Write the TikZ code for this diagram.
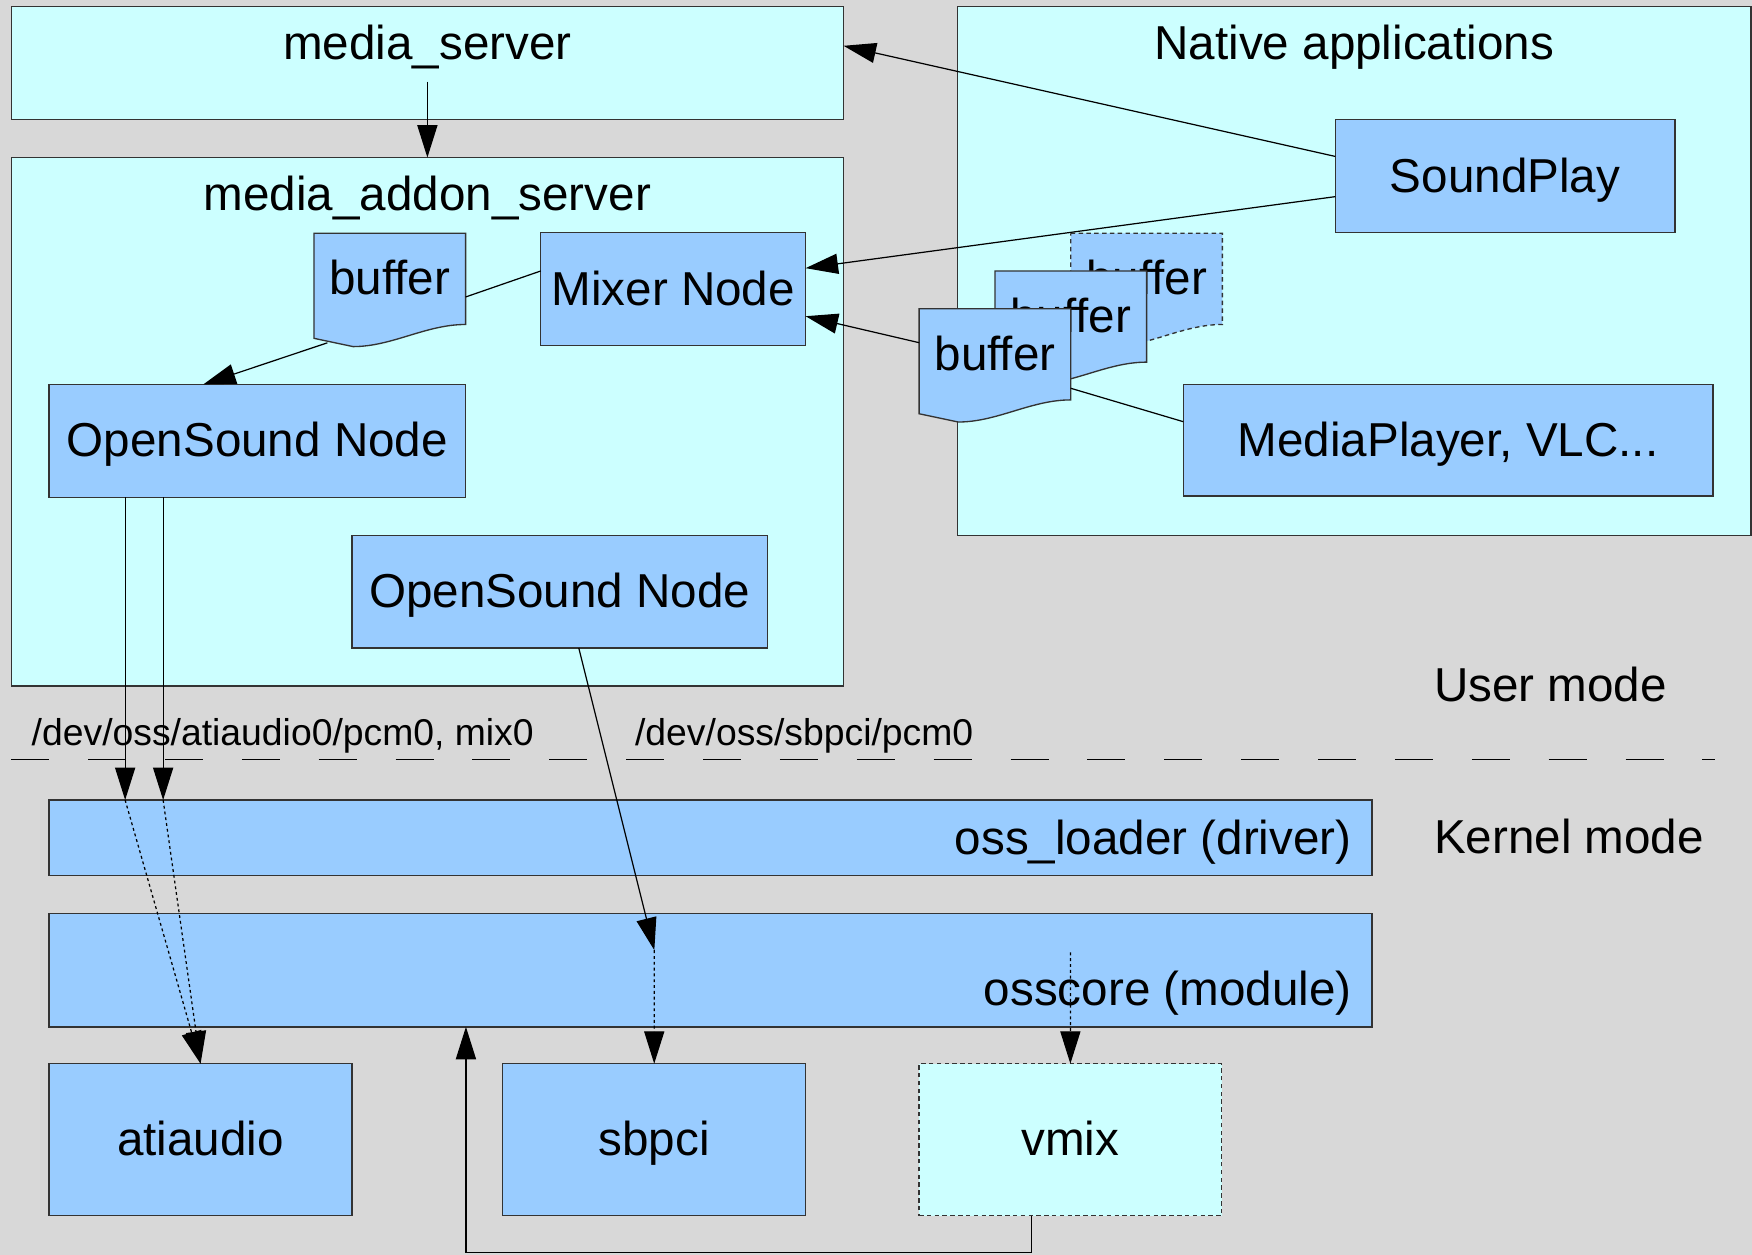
\documentclass[tikz,border=0pt]{standalone}
\usepackage{fontspec}
\setmainfont{Liberation Sans}
\usetikzlibrary{arrows.meta,calc}

\definecolor{bggray}{RGB}{216,216,216}
\definecolor{pale}{RGB}{204,255,255}
\definecolor{boxblue}{RGB}{153,204,255}
\definecolor{edge}{RGB}{51,51,51}

% rectangle node given by its corners (x1,y1)-(x2,y2)
\newcommand\placebox[6]{%
  \node[#1, minimum width={(#5-#3)*0.5pt}, minimum height={(#6-#4)*0.5pt}]
    (#2) at ({(#3+#5)/2},{(#4+#6)/2}) {};}

% "document" shaped buffer with a wavy lower edge, top left corner at (x,y)
\newcommand\bufferdoc[4]{%
  \node[inner sep=0, outer sep=0, minimum width=67.85pt, minimum height=40.8pt,
        anchor=north west] (#2) at (#3,#4) {};
  \path[#1, shift={(#3,#4)}] (0,0) -- (135.7,0) -- (135.7,81.6)
    .. controls (100,81.6) and (70,101.4) .. (35,101.4) -- (0,94) -- cycle;}

\tikzset{
  cont/.style={draw=edge, fill=pale, line width=0.6pt, inner sep=0, outer sep=0},
  blk/.style={draw=edge, fill=boxblue, line width=0.6pt, inner sep=0, outer sep=0},
  ghost/.style={draw=edge, fill=pale, dash pattern=on 2pt off 1.5pt, line width=0.6pt,
                inner sep=0, outer sep=0},
  lbl/.style={font=\fontsize{21.3}{25}\selectfont, inner sep=0, anchor=base},
  small/.style={font=\fontsize{16.7}{20}\selectfont, inner sep=0, anchor=base west},
  conn/.style={line width=0.55pt, -{Triangle[length=14.5pt,width=9pt]}},
  link/.style={line width=0.55pt},
  dots/.style={dash pattern=on 1.3pt off 1.3pt},
}

\begin{document}
\begin{tikzpicture}[x=0.5pt, y=-0.5pt]
\useasboundingbox (0,0) rectangle (1568,1123);
\fill[bggray] (0,0) rectangle (1568,1123);

% containers
\placebox{cont}{ms}{10}{6}{755}{107}
\placebox{cont}{nat}{857}{6}{1567}{479}
\placebox{cont}{addon}{10}{141}{755}{614}

% blocks
\placebox{blk}{sp}{1195}{107}{1499}{208}
\placebox{blk}{mixer}{484}{208}{721}{309}
\placebox{blk}{osnA}{44}{344}{416.8}{445}
\placebox{blk}{osnB}{315}{479}{687}{580}
\placebox{blk}{mp}{1059}{344}{1533}{444}
\placebox{blk}{ldr}{44}{716}{1228}{783.4}
\placebox{blk}{core}{44}{817.4}{1228}{919}
\placebox{blk}{ati}{44}{952}{315}{1088}
\placebox{blk}{sb}{450}{952}{721}{1088}
\placebox{ghost}{vmix}{822.5}{952}{1093.4}{1088}

% buffers
\bufferdoc{blk}{bufA}{281}{208.8}
\bufferdoc{blk, dash pattern=on 2pt off 1.5pt}{bufB}{958.3}{208.8}
\node[lbl] (tbufB) at (1026.2,264) {buffer};
\bufferdoc{blk}{bufC}{890.5}{242.5}
\node[lbl] (tbufC) at (958.4,297.7) {buffer};
\bufferdoc{blk}{bufD}{822.6}{276.3}
\node[lbl] (tbufD) at (890.5,331.5) {buffer};
\node[lbl] (tbufA) at (348.9,263.2) {buffer};

% titles and labels
\node[lbl] (tms) at (382.5,53.7) {media\_server};
\node[lbl] (tnat) at (1212,53.7) {Native applications};
\node[lbl] (taddon) at (382.5,188.7) {media\_addon\_server};
\node[lbl] (tsp) at (1347,172) {SoundPlay};
\node[lbl] (tmixer) at (602.5,273) {Mixer Node};
\node[lbl] (tosnA) at (230.4,408.8) {OpenSound Node};
\node[lbl] (tosnB) at (501,544) {OpenSound Node};
\node[lbl] (tmp) at (1296,408.5) {MediaPlayer, VLC...};
\node[lbl, anchor=base west] (tuser) at (1283,628) {User mode};
\node[lbl, anchor=base west] (tkernel) at (1283,764) {Kernel mode};
\node[lbl, anchor=base east] (tldr) at (1210,765) {oss\_loader (driver)};
\node[lbl, anchor=base east] (tcore) at (1210,899.5) {osscore (module)};
\node[lbl] (tati) at (179.5,1034.5) {atiaudio};
\node[lbl] (tsb) at (585.5,1034.5) {sbpci};
\node[lbl] (tvmix) at (958,1034) {vmix};
\node[small] (devA) at (28,667) {/dev/oss/atiaudio0/pcm0, mix0};
\node[small] (devB) at (568,667) {/dev/oss/sbpci/pcm0};

% user / kernel boundary
\coordinate (sepL) at (10,680);
\coordinate (sepR) at (1535,680);
\draw[link, dash pattern=on 17pt off 17.4pt] (sepL) -- (sepR);

% connectors
\draw[conn] ($(ms.north)+(0,67)$) -- (addon.north);
\draw[conn] ($(sp.north west)+(0,33)$) -- ($(ms.north east)+(0,35)$);
\draw[conn] ($(sp.north west)+(0,69)$) -- ($(mixer.north east)+(0,32)$);
\draw[link] ($(bufA.north east)+(0,57)$) -- ($(mixer.north west)+(0,34.5)$);
\draw[conn] ($(bufA.north west)+(12,98)$) -- ($(osnA.north west)+(138,0)$);
\draw[conn] ($(bufD.north west)+(0,30.4)$) -- ($(mixer.north east)+(0,75)$);
\draw[link] ($(bufD.north east)+(0,71.2)$) -- ($(mp.north west)+(0,33.4)$);
\draw[conn] ($(osnA.south west)+(68,0)$) -- ($(ldr.north west)+(68,0)$);
\draw[conn] ($(osnA.south west)+(102,0)$) -- ($(ldr.north west)+(102,0)$);
\draw[conn, dots] ($(ldr.north west)+(68,0)$) -- (ati.north);
\draw[conn, dots] ($(ldr.north west)+(102,0)$) -- (ati.north);
\draw[conn] ($(osnB.south west)+(203,0)$) -- ($(core.north west)+(541.6,33)$);
\draw[conn, dots] ($(core.north west)+(541.6,33)$) -- (sb.north);
\draw[conn, dots] ($(core.north west)+(914,35)$) -- (vmix.north);
\draw[conn] ($(vmix.south west)+(101,0)$) -- ++(0,33) -| ($(core.south west)+(373,0)$);
\end{tikzpicture}
\end{document}
